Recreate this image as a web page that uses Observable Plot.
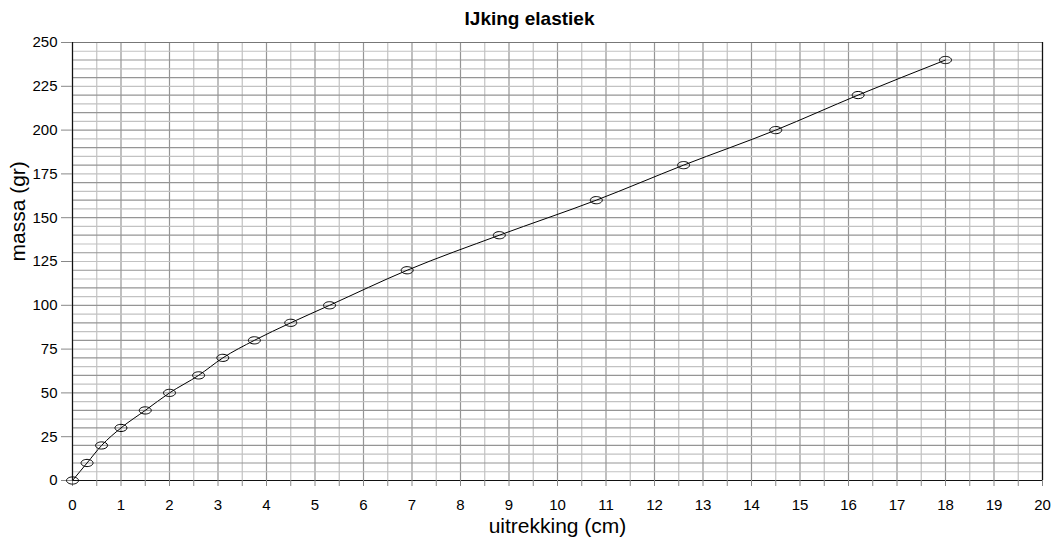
<!DOCTYPE html>
<html>
<head>
<meta charset="utf-8">
<script src="https://cdn.jsdelivr.net/npm/d3@7"></script>
<script src="https://cdn.jsdelivr.net/npm/@observablehq/plot@0.6"></script>
<style>
  html, body { margin: 0; padding: 0; background: #fff; }
  svg { display: block; }
</style>
</head>
<body>
<div id="chart"></div>
<script>
// Data
const uitrekking = [0, 0.3, 0.6, 1, 1.5, 2, 2.6, 3.1, 3.75, 4.5, 5.3, 6.9, 8.8, 10.8, 12.6, 14.5, 16.2, 18];
const massa      = [0, 10, 20, 30, 40, 50, 60, 70, 80, 90, 100, 120, 140, 160, 180, 200, 220, 240];
const xTicks = d3.range(0, 21, 1);
const yTicks = d3.range(0, 251, 25);
const xGrid = d3.range(0, 20.01, 0.5);
const yGrid = d3.range(0, 250.01, 5);
const title = "IJking elastiek";
const xLabel = "uitrekking (cm)";
const yLabel = "massa (gr)";

const data = uitrekking.map((x, i) => ({x, y: massa[i]}));

const ellipse = {
  draw(ctx) {
    const rx = 6, ry = 3.6, k = 0.5523;
    const kx = rx * k, ky = ry * k;
    ctx.moveTo(rx, 0);
    ctx.bezierCurveTo(rx, ky, kx, ry, 0, ry);
    ctx.bezierCurveTo(-kx, ry, -rx, ky, -rx, 0);
    ctx.bezierCurveTo(-rx, -ky, -kx, -ry, 0, -ry);
    ctx.bezierCurveTo(kx, -ry, rx, -ky, rx, 0);
    ctx.closePath();
  }
};

const chart = Plot.plot({
  width: 1057,
  height: 540,
  marginLeft: 72,
  marginRight: 15,
  marginTop: 42,
  marginBottom: 60,
  style: {fontFamily: "'Liberation Sans', Arial, Helvetica, sans-serif", fontSize: "15px", color: "#000", background: "#fff"},
  x: {domain: [0, 20], label: null},
  y: {domain: [0, 250], label: null},
  marks: [
    Plot.ruleX(xGrid, {stroke: d => Number.isInteger(d) ? "#959595" : "#c2c2c2", strokeWidth: 1.2}),
    Plot.ruleY(yGrid, {stroke: d => d % 10 === 0 ? "#959595" : "#c2c2c2", strokeWidth: 1.2}),
    Plot.ruleY([250], {stroke: "#777", strokeWidth: 1.2}),
    Plot.ruleX([0, 20], {stroke: "#111", strokeWidth: 1.2}),
    Plot.ruleY([0], {stroke: "#111", strokeWidth: 1.2}),
    Plot.axisX(xGrid, {tickSize: 6, text: null, stroke: "#888"}),
    Plot.axisX(xTicks, {tickSize: 0, tickPadding: 17, dy: 2, fontSize: 15}),
    Plot.axisY(yTicks, {tickSize: 11, tickPadding: 4, stroke: "#888", fontSize: 15}),
    Plot.line(data, {x: "x", y: "y", stroke: "#000", strokeWidth: 1, curve: "monotone-x"}),
    Plot.dot(data, {x: "x", y: "y", symbol: ellipse, stroke: "#000", strokeWidth: 1, fill: "none"}),
    Plot.text([title], {frameAnchor: "top", dx: -28, dy: -31, text: d => d, fontSize: 19, fontWeight: "bold"}),
    Plot.text([xLabel], {frameAnchor: "bottom", dy: 52, text: d => d, fontSize: 21}),
    Plot.text([yLabel], {frameAnchor: "left", dx: -54, rotate: -90, text: d => d, fontSize: 21})
  ]
});
document.getElementById("chart").appendChild(chart);
</script>
</body>
</html>
